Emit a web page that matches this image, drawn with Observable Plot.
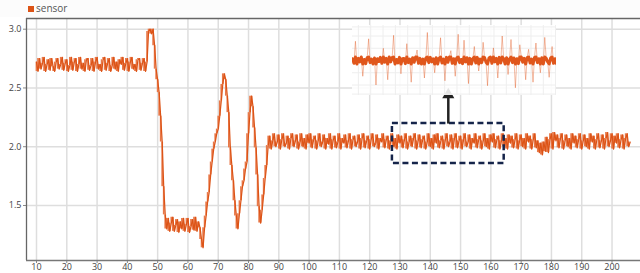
<!DOCTYPE html>
<html><head><meta charset="utf-8">
<script src="https://cdn.jsdelivr.net/npm/d3@7"></script>
<script src="https://cdn.jsdelivr.net/npm/@observablehq/plot@0.6"></script>
<style>
html,body{margin:0;padding:0;background:#fff;}
#wrap{position:relative;width:640px;height:273px;overflow:hidden;font-family:"Open Sans",sans-serif;}
#legend{position:absolute;left:0;top:0;width:640px;height:17px;background:#fcfcfc;}
#legend .sw{position:absolute;left:28px;top:6px;width:6px;height:6px;background:#dc5316;}
#legend .lb{position:absolute;left:36px;top:1px;font-size:10px;line-height:15px;color:#555;}
#chart{position:absolute;left:0;top:17px;}
#inset{position:absolute;left:352px;top:25px;width:204px;height:70px;background:rgba(255,255,255,0.88);}
</style></head>
<body>
<div id="wrap">
  <div id="legend"><div class="sw"></div><div class="lb">sensor</div></div>
  <div id="chart"></div>
  <div id="inset"></div>
</div>
<script>
// ---- data ----
const seriesName = "sensor";
const tStart = 10, tStep = 0.5;
const highPlateau = [2.72,2.64,2.75,2.66,2.71,2.76,2.64,2.70,2.74,2.65,2.75,2.68,2.64,2.72,2.75,2.66,2.70,2.76,2.65,2.71,
2.74,2.64,2.69,2.76,2.65,2.72,2.75,2.64,2.70,2.76,2.66,2.71,2.64,2.74,2.75,2.65,2.69,2.75,2.64,2.72,
2.76,2.66,2.70,2.64,2.74,2.76,2.65,2.71,2.75,2.64,2.69,2.76,2.66,2.72,2.64,2.74,2.70,2.76,2.65,2.71,
2.75,2.64,2.72,2.76,2.66,2.70,2.64,2.74,2.75,2.65,2.71,2.75,2.64,2.72];
const peakDrop = [2.98,3.00,2.96,3.00,2.86,2.66,2.57,2.46,2.26,2.04,1.66,1.42];
const lowPlateau = [1.30,1.39,1.28,1.35,1.40,1.28,1.33,1.38,1.27,1.36,1.30,1.39,1.28,1.34,1.39,1.27,1.32,1.38,1.29,1.40,1.28,1.36,1.31];
const oscillation = [1.21,1.14,1.31,1.41,1.53,1.61,1.76,1.87,1.98,2.04,
2.11,2.15,2.26,2.39,2.53,2.62,2.57,2.43,2.29,1.99,
1.84,1.71,1.54,1.41,1.30,1.43,1.54,1.66,1.71,1.81,
1.87,2.11,2.29,2.43,2.34,2.16,1.99,1.76,1.49,1.35,
1.46,1.59,1.73,1.84,2.01];
const finalPlateau = [2.09,1.98,2.05,2.11,2.00,2.04,2.10,1.98,2.06,2.11,2.00,2.03,2.09,1.98,2.07,2.11,2.00,2.05,2.10,1.98,
2.04,2.11,2.00,2.07,1.98,2.10,2.03,2.11,1.99,2.06,2.09,1.98,2.05,2.11,2.00,2.04,2.10,1.98,2.07,2.02,
2.11,1.98,2.06,2.09,1.99,2.04,2.11,1.98,2.07,2.03,2.10,1.99,2.05,2.11,1.98,2.06,2.09,2.00,2.04,2.10,
1.98,2.07,2.11,1.99,2.05,2.09,1.98,2.06,2.11,2.00,2.03,2.10,1.98,2.07,2.04,2.11,1.99,2.06,2.09,1.98,
2.05,2.11,2.00,2.07,1.98,2.10,2.03,2.09,1.99,2.06,2.11,1.98,2.04,2.09,2.00,2.07,2.11,1.98,2.05,2.10,
1.99,2.06,2.09,1.98,2.04,2.11,2.00,2.07,1.98,2.10,2.03,2.11,1.99,2.05,2.09,1.98,2.06,2.11,2.00,2.04,
2.10,1.98,2.07,2.11,1.99,2.05,2.09,1.98,2.06,2.11,2.00,2.04,2.10,1.98,2.07,2.03,2.11,1.99,2.06,2.09,
1.98,2.05,2.11,2.00,2.07,1.98,2.10,2.04,2.11,1.99,2.06,2.09,1.98,2.05,2.11,2.00,2.07,1.98,2.10,2.03,
2.09,1.99,2.06,2.11,1.98,2.05,2.10,2.00,2.07,1.98,2.11,2.04,2.09,1.98,2.06,2.11,1.99,2.05,1.95,2.03,
1.93,2.04,1.96,2.08,1.95,2.06,2.11,1.98,2.12,2.05,2.10,1.99,2.07,2.11,1.98,2.05,2.10,2.00,2.07,1.98,
2.11,2.03,2.09,1.99,2.06,2.11,1.98,2.05,2.10,2.00,2.07,1.98,2.11,2.04,2.09,1.98,2.06,2.11,1.99,2.05,
2.10,1.98,2.07,2.12,2.00,2.05,2.11,1.98,2.09,2.03,2.11,1.99,2.06,2.10,1.98,2.07,2.11,2.00,2.04];
// zoomed detail shown in the inset (deviation around the mean)
const insetDetail = [0.05,-0.08,0.55,-0.10,0.06,-0.04,0.10,-0.45,0.03,-0.09,0.08,0.62,-0.06,0.04,-0.12,0.07,-0.70,0.05,-0.03,0.09,
-0.08,0.35,-0.05,0.06,-0.55,0.10,-0.04,0.08,0.72,-0.10,0.03,-0.07,0.09,-0.38,0.05,0.06,-0.09,0.48,-0.06,0.04,
-0.62,0.08,-0.05,0.10,0.30,-0.08,0.06,-0.11,0.04,-0.50,0.07,0.80,-0.06,0.09,-0.04,0.05,-0.35,0.08,-0.10,0.06,
0.65,-0.07,0.04,-0.58,0.09,-0.05,0.10,0.28,-0.08,0.05,-0.45,0.07,0.75,-0.06,0.03,-0.09,0.58,-0.04,0.08,-0.66,
0.06,-0.10,0.05,0.40,-0.07,0.09,-0.30,0.04,-0.06,0.52,0.08,-0.05,-0.72,0.07,0.10,-0.08,0.36,-0.04,0.06,-0.50,
0.09,-0.07,0.70,0.05,-0.10,0.08,-0.40,0.04,0.60,-0.06,0.07,-0.78,0.05,-0.09,0.45,0.10,-0.05,0.06,-0.55,0.08,
0.32,-0.07,0.04,-0.62,0.09,0.50,-0.06,0.05,-0.35,0.08,-0.10,0.66,0.06,-0.04,-0.48,0.07,0.40,-0.08,0.05,-0.09];
const xTicks = [10,20,30,40,50,60,70,80,90,100,110,120,130,140,150,160,170,180,190,200];
const yTicks = [1.5,2.0,2.5,3.0];
const zoomWindowX = [127.5, 164.4];
const zoomWindowY = [1.857, 2.197];
const arrowTipY = 2.478;

// ---- build table ----
const values = [...highPlateau, ...peakDrop, ...lowPlateau, ...oscillation, ...finalPlateau];
const data = values.map((v, i) => ({t: tStart + i * tStep, v}));
// each sampling interval drawn as a vertical span between consecutive readings (dense signal look)
const spans = data.slice(0, -1).map((d, i) => ({t: d.t, a: d.v, b: data[i + 1].v}));
const orange = "#dc5316";
const xDomain = [6.7, 209.4];
const yDomain = [1.032, 3.091];
const arrowX = (zoomWindowX[0] + zoomWindowX[1]) / 2;

const chart = Plot.plot({
  width: 640, height: 256,
  marginLeft: 26, marginRight: 0, marginTop: 1, marginBottom: 13,
  style: {fontFamily: "Open Sans, sans-serif", fontSize: "9px", color: "#444", background: "transparent"},
  x: {domain: xDomain},
  y: {domain: yDomain},
  marks: [
    Plot.gridX(xTicks, {stroke: "#dedede", strokeOpacity: 1, strokeWidth: 1.5}),
    Plot.gridY(yTicks, {stroke: "#dedede", strokeOpacity: 1, strokeWidth: 1.5}),
    Plot.ruleX(spans, {x: "t", y1: "a", y2: "b", stroke: "#e8794a", strokeWidth: 1.7}),
    Plot.line(data, {x: "t", y: "v", stroke: orange, strokeWidth: 1.2}),
    Plot.rect([0], {x1: zoomWindowX[0], x2: zoomWindowX[1], y1: zoomWindowY[0], y2: zoomWindowY[1],
      fill: "none", stroke: "#15244a", strokeWidth: 2.5, strokeDasharray: "6,3.5"}),
    Plot.link([0], {x1: arrowX, x2: arrowX, y1: zoomWindowY[1], y2: arrowTipY - 0.04, stroke: "#222", strokeWidth: 2.5}),
    Plot.dot([0], {x: arrowX, y: arrowTipY - 0.035, symbol: "triangle", r: 4.5, fill: "#222", stroke: "none"}),
    Plot.axisX(xTicks, {tickSize: 3, tickPadding: 0, stroke: "#888", fill: "#444", label: null}),
    Plot.axisY(yTicks, {tickSize: 3, tickPadding: 2, stroke: "#888", fill: "#444", tickFormat: d3.format(".1f"), label: null}),
    Plot.ruleX([xDomain[0]], {stroke: "#666", strokeWidth: 1.3}),
    Plot.ruleY([yDomain[0]], {stroke: "#777", strokeWidth: 1.3}),
    Plot.ruleY([yDomain[1]], {stroke: "#666", strokeWidth: 1.5})
  ]
});
document.getElementById("chart").appendChild(chart);

const insetData = insetDetail.map((d, i) => ({i, d}));
const inset = Plot.plot({
  width: 204, height: 70, margin: 0,
  style: {background: "transparent"},
  x: {domain: [0, insetDetail.length - 1], axis: null},
  y: {domain: [-1, 1], axis: null},
  marks: [
    Plot.gridX(d3.range(4, insetDetail.length, 8.4), {stroke: "#eeeeee", strokeOpacity: 1}),
    Plot.gridY([-0.96, -0.7, -0.35, 0.35, 0.7, 0.96], {stroke: "#eeeeee", strokeOpacity: 1}),
    Plot.line(insetData, {x: "i", y: "d", stroke: "#e0561b", strokeOpacity: 0.4, strokeWidth: 1}),
    Plot.line(insetData, {x: "i", y: d => Math.max(-0.1, Math.min(0.1, d.d)), stroke: "#e0561b", strokeWidth: 3})
  ]
});
document.getElementById("inset").appendChild(inset);
</script>
</body></html>
